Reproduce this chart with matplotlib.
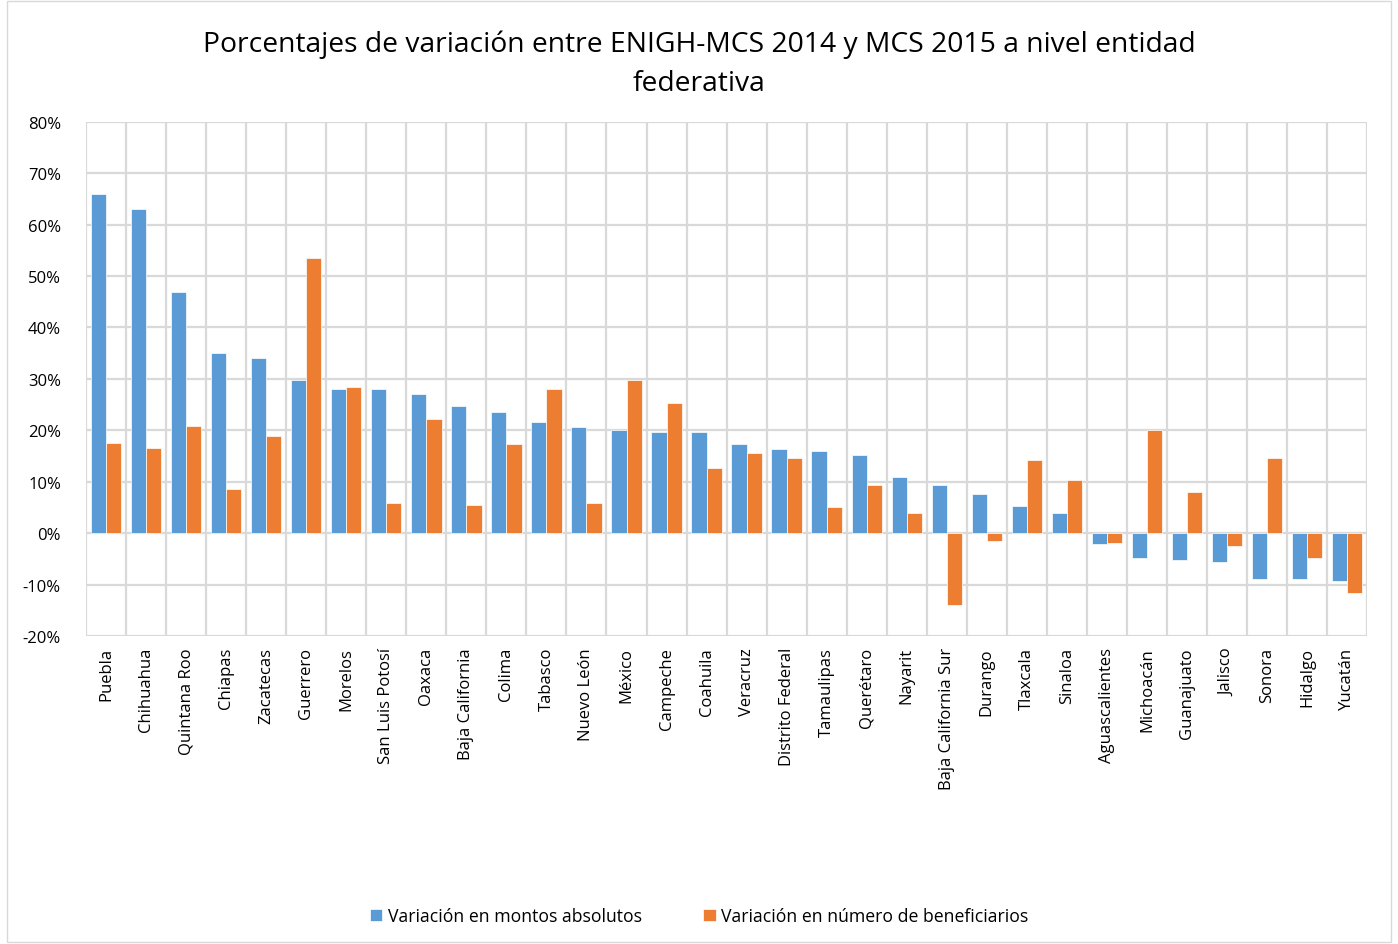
import matplotlib.pyplot as plt
import numpy as np
from matplotlib.patches import Rectangle
from matplotlib.ticker import FuncFormatter, MultipleLocator

plt.rcParams['font.family'] = ['Open Sans', 'DejaVu Sans']

# data (percent)
estados = ['Puebla', 'Chihuahua', 'Quintana Roo', 'Chiapas', 'Zacatecas', 'Guerrero',
           'Morelos', 'San Luis Potosí', 'Oaxaca', 'Baja California', 'Colima', 'Tabasco',
           'Nuevo León', 'México', 'Campeche', 'Coahuila', 'Veracruz', 'Distrito Federal',
           'Tamaulipas', 'Querétaro', 'Nayarit', 'Baja California Sur', 'Durango',
           'Tlaxcala', 'Sinaloa', 'Aguascalientes', 'Michoacán', 'Guanajuato', 'Jalisco',
           'Sonora', 'Hidalgo', 'Yucatán']
montos = [66.0, 63.0, 46.9, 35.0, 34.0, 29.8, 28.0, 28.0, 27.0, 24.7, 23.5, 21.6,
          20.6, 20.0, 19.6, 19.6, 17.3, 16.3, 16.0, 15.2, 10.9, 9.3, 7.6,
          5.3, 3.9, -2.1, -4.9, -5.3, -5.6, -9.0, -9.0, -9.3]
beneficiarios = [17.5, 16.5, 20.8, 8.6, 18.9, 53.5, 28.4, 5.8, 22.2, 5.4, 17.3, 28.0,
                 5.8, 29.8, 25.3, 12.6, 15.6, 14.6, 5.1, 9.3, 3.9, -14.0, -1.6,
                 14.2, 10.3, -1.9, 20.0, 8.0, -2.5, 14.6, -4.9, -11.7]

azul = '#5B9BD5'
naranja = '#ED7D31'

fig = plt.figure(figsize=(13.98, 9.45), dpi=100)
ax = fig.add_axes([0.0615, 0.326, 0.9165, 0.544])

x = np.arange(len(estados))
w = 0.38
ax.bar(x - w/2, montos, w, color=azul, edgecolor='white', linewidth=0.5,
       label='Variación en montos absolutos', zorder=3)
ax.bar(x + w/2, beneficiarios, w, color=naranja, edgecolor='white', linewidth=0.5,
       label='Variación en número de beneficiarios', zorder=3)

ax.set_xlim(-0.5, len(estados) - 0.5)
ax.set_ylim(-20, 80)
ax.yaxis.set_major_locator(MultipleLocator(10))
ax.yaxis.set_major_formatter(FuncFormatter(lambda v, p: f'{v:.0f}%'))

# vertical grid lines between categories
ax.set_xticks(x)
ax.set_xticks(np.arange(-0.5, len(estados), 1), minor=True)
ax.set_xticklabels(estados, rotation=90, fontsize=12)
ax.grid(axis='y', color='#D9D9D9', linewidth=1.6, zorder=0)
ax.grid(axis='x', which='minor', color='#D9D9D9', linewidth=1.6, zorder=0)
ax.tick_params(axis='both', which='both', length=0)
ax.tick_params(axis='y', labelsize=12, pad=18)
ax.tick_params(axis='x', pad=8)
for s in ax.spines.values():
    s.set_visible(False)

fig.suptitle('Porcentajes de variación entre ENIGH-MCS 2014 y MCS 2015 a nivel entidad\nfederativa',
             fontsize=20.3, y=0.968, linespacing=1.55)

fig.legend(loc='lower center', bbox_to_anchor=(0.5, 0.003), ncol=2, frameon=False,
           fontsize=12.7, handlelength=0.7, handleheight=0.7, handletextpad=0.3,
           columnspacing=3.5)

fig.patches.append(Rectangle((0.005, 0.002), 0.99, 0.996, transform=fig.transFigure,
                             fill=False, edgecolor='#D9D9D9', linewidth=1))

fig.savefig('out.png', dpi=100)
